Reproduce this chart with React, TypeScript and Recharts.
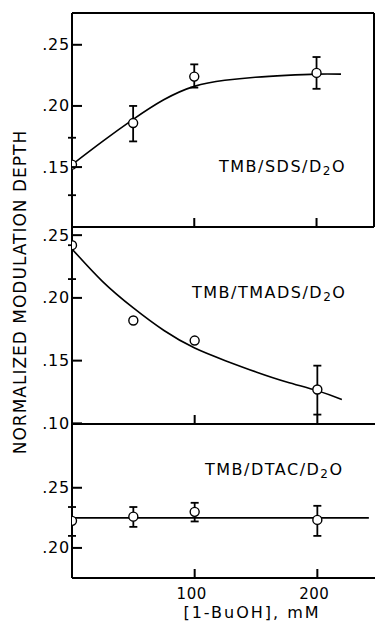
import React from "react";
import { ComposedChart, Line, Scatter, XAxis, YAxis, ErrorBar } from "recharts";

// [1-BuOH] concentrations, mM
const conc = [0, 50, 100, 200];

// TMB/SDS/D2O
const sdsY = [0.152, 0.186, 0.224, 0.227];
const sdsLow = [0.127, 0.171, 0.215, 0.214];
const sdsHigh = [0.174, 0.2, 0.234, 0.24];
const sdsCurveX = [0, 25, 50, 75, 100, 125, 150, 175, 200, 220];
const sdsCurveY = [0.152, 0.171, 0.189, 0.205, 0.216, 0.221, 0.2235, 0.225, 0.226, 0.226];

// TMB/TMADS/D2O
const tmadsY = [0.242, 0.182, 0.166, 0.127];
const tmadsLow = [0.215, null, null, 0.107];
const tmadsHigh = [0.242, null, null, 0.146];
const tmadsCurveX = [0, 25, 50, 75, 100, 125, 150, 175, 200, 220];
const tmadsCurveY = [0.239, 0.213, 0.192, 0.174, 0.16, 0.15, 0.141, 0.133, 0.126, 0.119];

// TMB/DTAC/D2O
const dtacY = [0.2225, 0.226, 0.23, 0.2233];
const dtacLow = [0.21, 0.2175, 0.222, 0.21];
const dtacHigh = [0.234, 0.234, 0.2375, 0.235];
const dtacLineX = [0, 242];
const dtacLineY = [0.225, 0.225];

const xTicks = [100, 200];
const X_DOMAIN: [number, number] = [0, 247];

const FONT = "'DejaVu Sans', Verdana, sans-serif";
const AXIS_X = 72;
const TICK = 9;

function pointsWithErr(ys: number[], lows: (number | null)[], highs: (number | null)[]) {
  return conc
    .map((x, i) => ({ x, y: ys[i], lo: lows[i], hi: highs[i] }))
    .filter((p) => p.lo != null)
    .map((p) => ({ x: p.x, y: p.y, err: [p.y - (p.lo as number), (p.hi as number) - p.y] }));
}

function pointsNoErr(ys: number[], lows: (number | null)[]) {
  return conc.map((x, i) => ({ x, y: ys[i], lo: lows[i] })).filter((p) => p.lo == null);
}

function curve(xs: number[], ys: number[]) {
  return xs.map((x, i) => ({ x, y: ys[i] }));
}

// ticks point inward, drawn as thin rects
function YTick(props: any) {
  const { y, payload } = props;
  const label = Number(payload.value).toFixed(2).replace(/^0/, "");
  return (
    <g>
      <rect x={AXIS_X} y={y - 1} width={TICK + 1} height={2} fill="#000" />
      <text x={AXIS_X - 2} y={y} textAnchor="end" dominantBaseline="central" fontSize={16} letterSpacing={0.8} fontFamily={FONT} fill="#000">
        {label}
      </text>
    </g>
  );
}

function XTick(props: any) {
  const { x, y, payload, showLabel } = props;
  return (
    <g>
      <rect x={x - 1} y={y - TICK} width={2} height={TICK} fill="#000" />
      {showLabel && (
        <text x={x - 3} y={y + 16} textAnchor="middle" dominantBaseline="central" fontSize={15} letterSpacing={0.5} fontFamily={FONT} fill="#000">
          {payload.value}
        </text>
      )}
    </g>
  );
}

const circle = (p: any) => <circle cx={p.cx} cy={p.cy} r={4.5} fill="#fff" stroke="#000" strokeWidth={1.4} />;

interface PanelProps {
  top: number;
  height: number;
  bottom: number;
  domain: [number, number];
  ticks: number[];
  curveData: { x: number; y: number }[];
  errPts: { x: number; y: number; err: number[] }[];
  plainPts: { x: number; y: number }[];
  boxed?: boolean;
  showXLabels?: boolean;
}

function Panel({ top, height, bottom, domain, ticks, curveData, errPts, plainPts, boxed, showXLabels }: PanelProps) {
  return (
    <div style={{ position: "absolute", left: 0, top }}>
      <ComposedChart width={376} height={height} margin={{ top: boxed ? 12 : 0, right: 1, bottom, left: AXIS_X - 40 }}>
        <XAxis
          xAxisId={0}
          type="number"
          dataKey="x"
          domain={X_DOMAIN}
          allowDataOverflow
          ticks={xTicks}
          interval={0}
          height={1}
          tickSize={0}
          tickMargin={0}
          tickLine={false}
          axisLine={{ stroke: "#000", strokeWidth: 2 }}
          tick={(p: any) => <XTick {...p} showLabel={showXLabels} />}
        />
        <YAxis
          yAxisId={0}
          type="number"
          domain={domain}
          allowDataOverflow
          ticks={ticks}
          interval={0}
          width={40}
          tickSize={0}
          tickMargin={0}
          tickLine={false}
          axisLine={{ stroke: "#000", strokeWidth: 2 }}
          tick={(p: any) => <YTick {...p} />}
        />
        {boxed && (
          <XAxis xAxisId="top" orientation="top" type="number" domain={X_DOMAIN} height={1} tick={false} tickLine={false} axisLine={{ stroke: "#000", strokeWidth: 2 }} />
        )}
        {boxed && (
          <YAxis yAxisId="right" orientation="right" type="number" domain={domain} width={1} tick={false} tickLine={false} axisLine={{ stroke: "#000", strokeWidth: 2 }} />
        )}
        <Line data={curveData} dataKey="y" type="natural" dot={false} stroke="#000" strokeWidth={1.6} isAnimationActive={false} />
        <Scatter data={errPts} dataKey="y" shape={circle} isAnimationActive={false}>
          <ErrorBar dataKey="err" direction="y" width={4} stroke="#000" strokeWidth={1.8} />
        </Scatter>
        {plainPts.length > 0 && <Scatter data={plainPts} dataKey="y" shape={circle} isAnimationActive={false} />}
      </ComposedChart>
    </div>
  );
}

const labelStyle: React.CSSProperties = {
  position: "absolute",
  fontFamily: FONT,
  fontSize: 16,
  letterSpacing: 1.5,
  color: "#000",
  whiteSpace: "nowrap",
  lineHeight: "16px",
};

function PanelLabel({ left, top, name }: { left: number; top: number; name: string }) {
  return (
    <div style={{ ...labelStyle, left, top }}>
      {name}/D<span style={{ fontSize: 12, position: "relative", top: 3 }}>2</span>O
    </div>
  );
}

export default function App() {
  return (
    <div style={{ position: "absolute", left: 0, top: 0, width: 376, height: 631, background: "#fff", overflow: "hidden" }}>
      <Panel
        top={0}
        height={228}
        bottom={0}
        domain={[0.101, 0.276]}
        ticks={[0.15, 0.2, 0.25]}
        curveData={curve(sdsCurveX, sdsCurveY)}
        errPts={pointsWithErr(sdsY, sdsLow, sdsHigh)}
        plainPts={[]}
        boxed
      />
      <Panel
        top={227}
        height={208}
        bottom={10}
        domain={[0.0995, 0.2565]}
        ticks={[0.1, 0.15, 0.2, 0.25]}
        curveData={curve(tmadsCurveX, tmadsCurveY)}
        errPts={pointsWithErr(tmadsY, tmadsLow, tmadsHigh)}
        plainPts={pointsNoErr(tmadsY, tmadsLow)}
      />
      <Panel
        top={424}
        height={205}
        bottom={50}
        domain={[0.175, 0.303]}
        ticks={[0.2, 0.25]}
        curveData={curve(dtacLineX, dtacLineY)}
        errPts={pointsWithErr(dtacY, dtacLow, dtacHigh)}
        plainPts={[]}
        showXLabels
      />
      <PanelLabel left={219} top={159} name="TMB/SDS" />
      <PanelLabel left={192} top={285} name="TMB/TMADS" />
      <PanelLabel left={205} top={462} name="TMB/DTAC" />
      <div style={{ ...labelStyle, left: 152, top: 605, width: 200, textAlign: "center", letterSpacing: 2 }}>[1-BuOH], mM</div>
      <div
        style={{
          ...labelStyle,
          left: 20,
          top: 292,
          width: 420,
          textAlign: "center",
          fontSize: 17,
          letterSpacing: 1,
          transform: "translate(-50%, -50%) rotate(-90deg)",
        }}
      >
        NORMALIZED MODULATION DEPTH
      </div>
    </div>
  );
}
